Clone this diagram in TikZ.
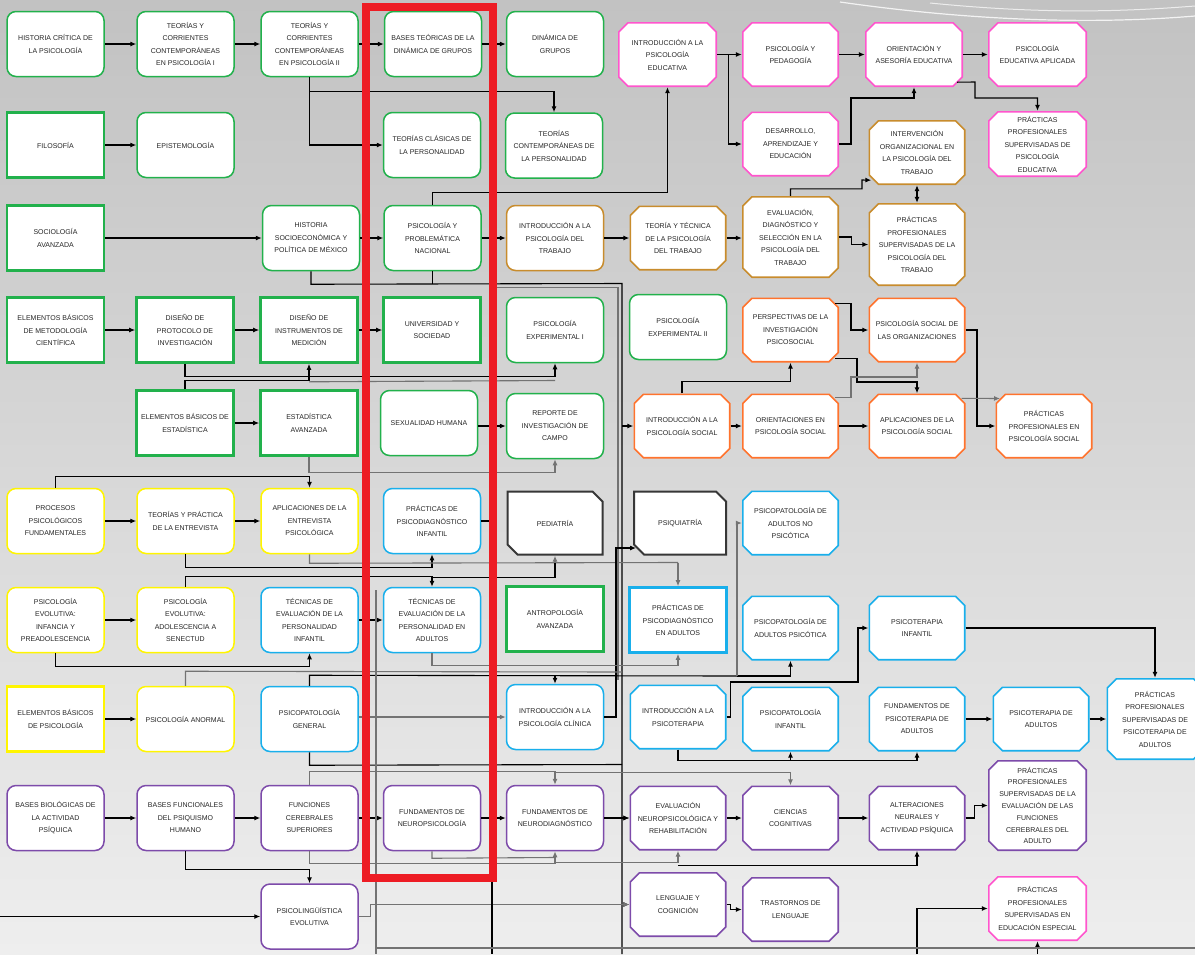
\documentclass[tikz,border=0pt]{standalone}
\usepackage{fontspec}
\newfontfamily\nodefamily{Liberation Sans}
\usetikzlibrary{arrows.meta,calc}
\definecolor{grn}{RGB}{34,177,76}
\definecolor{pnk}{RGB}{255,85,205}
\definecolor{brn}{RGB}{200,140,45}
\definecolor{org}{RGB}{255,115,45}
\definecolor{ylw}{RGB}{255,245,0}
\definecolor{blu}{RGB}{25,175,235}
\definecolor{pur}{RGB}{125,75,170}
\definecolor{drk}{RGB}{55,55,55}
\definecolor{redc}{RGB}{237,28,36}
\definecolor{gcol}{RGB}{115,115,115}
\definecolor{bgtop}{RGB}{194,194,194}
\definecolor{bgbot}{RGB}{238,238,238}
\newcommand{\nodefnt}{\nodefamily\fontsize{7}{12.5}\selectfont}
\tikzset{
  base/.style={minimum width=97pt, minimum height=65pt, inner sep=1pt, align=center, font=\nodefnt, text=black!85},
  rnd/.style={base, fill=white, draw=#1, line width=1.5pt, rounded corners=9pt},
  sq/.style={base, fill=white, draw=#1, line width=2.6pt},
  oct/.style={base, path picture={
    \filldraw[fill=white, draw=#1, line width=1.6pt]
      let \p1=(path picture bounding box.south west), \p2=(path picture bounding box.north east) in
      (\x1+10pt,\y1+0.8pt) -- (\x2-10pt,\y1+0.8pt) -- (\x2-0.8pt,\y1+10pt) -- (\x2-0.8pt,\y2-10pt)
      -- (\x2-10pt,\y2-0.8pt) -- (\x1+10pt,\y2-0.8pt) -- (\x1+0.8pt,\y2-10pt) -- (\x1+0.8pt,\y1+10pt) -- cycle;}},
  cutbox/.style={base, path picture={
    \filldraw[fill=white, draw=#1, line width=2pt]
      let \p1=(path picture bounding box.south west), \p2=(path picture bounding box.north east) in
      (\x1+11pt,\y1+1pt) -- (\x2-1pt,\y1+1pt) -- (\x2-1pt,\y2-11pt) -- (\x2-11pt,\y2-1pt)
      -- (\x1+1pt,\y2-1pt) -- (\x1+1pt,\y1+11pt) -- cycle;}},
  arr/.style={-{Latex[length=6pt,width=5pt]}, line width=1.1pt, draw=black},
  garr/.style={arr, draw=gcol},
  ln/.style={line width=1.1pt, draw=black},
  gln/.style={line width=1.1pt, draw=gcol},
}
\begin{document}
\begin{tikzpicture}[x=1pt,y=-1pt]
\useasboundingbox (0,0) rectangle (1195,954);
\shade[top color=bgtop, bottom color=bgbot] (0,0) rectangle (1195,954);
\draw[white, line width=1.2pt, opacity=0.8] (840,2) .. controls (980,22) and (1100,24) .. (1195,16);
\draw[white, line width=1pt, opacity=0.7] (930,3) .. controls (1040,14) and (1120,12) .. (1195,6);

% ---------- nodes ----------
% row 1
\node[rnd=grn] (hist) at (55.5,44) {HISTORIA CRÍTICA DE\\LA PSICOLOGÍA};
\node[rnd=grn] (t1) at (185.5,44) {TEORÍAS Y\\CORRIENTES\\CONTEMPORÁNEAS\\EN PSICOLOGÍA I};
\node[rnd=grn] (t2) at (309.5,44) {TEORÍAS Y\\CORRIENTES\\CONTEMPORÁNEAS\\EN PSICOLOGÍA II};
\node[rnd=grn] (bdin) at (433,44) {BASES TEÓRICAS DE LA\\DINÁMICA DE GRUPOS};
\node[rnd=grn] (dgr) at (555,44) {DINÁMICA DE\\GRUPOS};
\node[oct=pnk, minimum width=99pt] (iedu) at (667.5,54.5) {INTRODUCCIÓN A LA\\PSICOLOGÍA\\EDUCATIVA};
\node[oct=pnk] (pped) at (790.5,54.5) {PSICOLOGÍA Y\\PEDAGOGÍA};
\node[oct=pnk, minimum width=98pt] (orient) at (914,54.5) {ORIENTACIÓN Y\\ASESORÍA EDUCATIVA};
\node[oct=pnk, minimum width=99pt] (peapl) at (1037.5,54.5) {PSICOLOGÍA\\EDUCATIVA APLICADA};
% row 2
\node[sq=grn] (filo) at (55.5,145) {FILOSOFÍA};
\node[rnd=grn] (epis) at (185.5,145) {EPISTEMOLOGÍA};
\node[rnd=grn] (tclas) at (432,145) {TEORÍAS CLÁSICAS DE\\LA PERSONALIDAD};
\node[rnd=grn] (tcp) at (554,145.5) {TEORÍAS\\CONTEMPORÁNEAS DE\\LA PERSONALIDAD};
\node[oct=pnk] (desarr) at (790.5,144) {DESARROLLO,\\APRENDIZAJE Y\\EDUCACIÓN};
\node[oct=pnk, minimum width=99pt, minimum height=66pt] (pedu) at (1037.5,144) {PRÁCTICAS\\PROFESIONALES\\SUPERVISADAS DE\\PSICOLOGÍA\\EDUCATIVA};
\node[oct=brn] (interv) at (917,152.5) {INTERVENCIÓN\\ORGANIZACIONAL EN\\LA PSICOLOGÍA DEL\\TRABAJO};
% row 3
\node[sq=grn] (socio) at (55.5,238) {SOCIOLOGÍA\\AVANZADA};
\node[rnd=grn] (hsocio) at (311,238) {HISTORIA\\SOCIOECONÓMICA Y\\POLÍTICA DE MÉXICO};
\node[rnd=grn] (pprob) at (432.5,238) {PSICOLOGÍA Y\\PROBLEMÁTICA\\NACIONAL};
\node[rnd=brn] (itrab) at (555,238) {INTRODUCCIÓN A LA\\PSICOLOGÍA DEL\\TRABAJO};
\node[oct=brn] (teotec) at (678,238) {TEORÍA Y TÉCNICA\\DE LA PSICOLOGÍA\\DEL TRABAJO};
\node[oct=brn, minimum height=82pt] (evald) at (790.5,237) {EVALUACIÓN,\\DIAGNÓSTICO Y\\SELECCIÓN EN LA\\PSICOLOGÍA DEL\\TRABAJO};
\node[oct=brn, minimum height=83pt] (ptrab) at (917,244.5) {PRÁCTICAS\\PROFESIONALES\\SUPERVISADAS DE LA\\PSICOLOGÍA DEL\\TRABAJO};
% row 4
\node[sq=grn] (emet) at (55.5,330) {ELEMENTOS BÁSICOS\\DE METODOLOGÍA\\CIENTÍFICA};
\node[sq=grn] (dprot) at (185,330) {DISEÑO DE\\PROTOCOLO DE\\INVESTIGACIÓN};
\node[sq=grn] (dinst) at (309,330) {DISEÑO DE\\INSTRUMENTOS DE\\MEDICIÓN};
\node[sq=grn] (univ) at (432,330) {UNIVERSIDAD Y\\SOCIEDAD};
\node[rnd=grn] (pexp1) at (555,330) {PSICOLOGÍA\\EXPERIMENTAL I};
\node[rnd=grn] (pexp2) at (678,327) {PSICOLOGÍA\\EXPERIMENTAL II};
\node[oct=org] (persp) at (790.5,330) {PERSPECTIVAS DE LA\\INVESTIGACIÓN\\PSICOSOCIAL};
\node[oct=org] (psorg) at (917,330) {PSICOLOGÍA SOCIAL DE\\LAS ORGANIZACIONES};
% row 5
\node[sq=grn] (eest) at (185,423) {ELEMENTOS BÁSICOS DE\\ESTADÍSTICA};
\node[sq=grn] (estav) at (309,423) {ESTADÍSTICA\\AVANZADA};
\node[rnd=grn] (sexh) at (429,423) {SEXUALIDAD HUMANA};
\node[rnd=grn] (repo) at (555,426) {REPORTE DE\\INVESTIGACIÓN DE\\CAMPO};
\node[oct=org] (isoc) at (682,426) {INTRODUCCIÓN A LA\\PSICOLOGÍA SOCIAL};
\node[oct=org] (osoc) at (790.5,426) {ORIENTACIONES EN\\PSICOLOGÍA SOCIAL};
\node[oct=org] (asoc) at (917,426) {APLICACIONES DE LA\\PSICOLOGÍA SOCIAL};
\node[oct=org] (psoc) at (1044,426) {PRÁCTICAS\\PROFESIONALES EN\\PSICOLOGÍA SOCIAL};
% row 6
\node[rnd=ylw] (proc) at (55.5,521) {PROCESOS\\PSICOLÓGICOS\\FUNDAMENTALES};
\node[rnd=ylw] (tent) at (185.5,521) {TEORÍAS Y PRÁCTICA\\DE LA ENTREVISTA};
\node[rnd=ylw] (aent) at (309.5,521) {APLICACIONES DE LA\\ENTREVISTA\\PSICOLÓGICA};
\node[rnd=blu] (pinf) at (432,521) {PRÁCTICAS DE\\PSICODIAGNÓSTICO\\INFANTIL};
\node[cutbox=drk] (pedi) at (555,523) {PEDIATRÍA};
\node[cutbox=drk, minimum width=94pt] (psiq) at (680,523) {PSIQUIATRÍA};
\node[oct=blu] (ppnp) at (790.5,523) {PSICOPATOLOGÍA DE\\ADULTOS NO\\PSICÓTICA};
% row 7
\node[rnd=ylw] (pevi) at (55.5,620) {PSICOLOGÍA\\EVOLUTIVA:\\INFANCIA Y\\PREADOLESCENCIA};
\node[rnd=ylw] (peva) at (185.5,620) {PSICOLOGÍA\\EVOLUTIVA:\\ADOLESCENCIA A\\SENECTUD};
\node[rnd=blu] (tinf) at (309.5,620) {TÉCNICAS DE\\EVALUACIÓN DE LA\\PERSONALIDAD\\INFANTIL};
\node[rnd=blu] (tadu) at (432,620) {TÉCNICAS DE\\EVALUACIÓN DE LA\\PERSONALIDAD EN\\ADULTOS};
\node[sq=grn] (antr) at (555,619) {ANTROPOLOGÍA\\AVANZADA};
\node[sq=blu] (padu) at (678,620) {PRÁCTICAS DE\\PSICODIAGNÓSTICO\\EN ADULTOS};
\node[oct=blu] (ppps) at (790.5,628) {PSICOPATOLOGÍA DE\\ADULTOS PSICÓTICA};
\node[oct=blu] (ptinf) at (917,628) {PSICOTERAPIA\\INFANTIL};
% row 8
\node[sq=ylw] (ebps) at (55.5,719) {ELEMENTOS BÁSICOS\\DE PSICOLOGÍA};
\node[rnd=ylw] (panor) at (185.5,719) {PSICOLOGÍA ANORMAL};
\node[rnd=blu] (ppgen) at (309.5,719) {PSICOPATOLOGÍA\\GENERAL};
\node[rnd=blu] (iclin) at (555,717) {INTRODUCCIÓN A LA\\PSICOLOGÍA CLÍNICA};
\node[oct=blu] (ipster) at (678,717) {INTRODUCCIÓN A LA\\PSICOTERAPIA};
\node[oct=blu] (ppinf) at (790.5,719) {PSICOPATOLOGÍA\\INFANTIL};
\node[oct=blu] (fpster) at (917,719) {FUNDAMENTOS DE\\PSICOTERAPIA DE\\ADULTOS};
\node[oct=blu] (pstad) at (1041,719) {PSICOTERAPIA DE\\ADULTOS};
\node[oct=blu, minimum height=82pt] (ppster) at (1155,719) {PRÁCTICAS\\PROFESIONALES\\SUPERVISADAS DE\\PSICOTERAPIA DE\\ADULTOS};
% row 9
\node[rnd=pur] (bbio) at (55.5,818) {BASES BIOLÓGICAS DE\\LA ACTIVIDAD\\PSÍQUICA};
\node[rnd=pur] (bfun) at (185.5,818) {BASES FUNCIONALES\\DEL PSIQUISMO\\HUMANO};
\node[rnd=pur] (fcer) at (309.5,818) {FUNCIONES\\CEREBRALES\\SUPERIORES};
\node[rnd=pur] (fneu) at (432,818) {FUNDAMENTOS DE\\NEUROPSICOLOGÍA};
\node[rnd=pur] (fndg) at (555,818) {FUNDAMENTOS DE\\NEURODIAGNÓSTICO};
\node[oct=pur] (eneu) at (678,818) {EVALUACIÓN\\NEUROPSICOLÓGICA Y\\REHABILITACIÓN};
\node[oct=pur] (ccog) at (790.5,818) {CIENCIAS\\COGNITIVAS};
\node[oct=pur] (altn) at (917,818) {ALTERACIONES\\NEURALES Y\\ACTIVIDAD PSÍQUICA};
\node[oct=pur, minimum width=99pt, minimum height=91pt, font=\nodefamily\fontsize{7}{11.8}\selectfont] (pneu) at (1037.5,805.5) {PRÁCTICAS\\PROFESIONALES\\SUPERVISADAS DE LA\\EVALUACIÓN DE LAS\\FUNCIONES\\CEREBRALES DEL\\ADULTO};
% row 10
\node[rnd=pur] (pling) at (309.5,916.5) {PSICOLINGÜÍSTICA\\EVOLUTIVA};
\node[oct=pur] (lcog) at (678,904.5) {LENGUAJE Y\\COGNICIÓN};
\node[oct=pur] (tleng) at (790.5,909.5) {TRASTORNOS DE\\LENGUAJE};
\node[oct=pnk, minimum width=99pt] (pesp) at (1037.5,908.5) {PRÁCTICAS\\PROFESIONALES\\SUPERVISADAS EN\\EDUCACIÓN ESPECIAL};

% ---------- connectors ----------
\coordinate (tk) at (622,283.5);
\coordinate (tkend) at (622,954);
% row 1
\draw[arr] (hist) -- (t1);
\draw[arr] (t1) -- (t2);
\draw[arr] (t2) -- (bdin);
\draw[arr] (bdin) -- (dgr);
\draw[arr] (t2.south) -- ++(0,14) -| (tcp.north);
\draw[arr] (t2.south) |- (tclas.west);
\draw[arr] (iedu.east) -- (pped.west);
\draw[arr] (iedu.east) ++(11,0) |- (desarr.west);
\draw[arr] (pped) -- (orient);
\draw[arr] (orient) -- (peapl);
\draw[arr] ([xshift=-6pt,yshift=5pt]orient.south east) -- (975,82) -- (975,98) -| (pedu.north);
\draw[arr] (desarr.east) -| (851,98) -| (orient.south);
% row 2
\draw[arr] (filo) -- (epis);
% row 3
\draw[arr] (socio) -- (hsocio);
\draw[arr] (hsocio) -- (pprob);
\draw[arr] (pprob) -- (itrab);
\draw[arr] (pprob.north) -- ++(0,-12) -| (iedu.south);
\draw[arr] (itrab) -- (teotec);
\draw[arr] (teotec.east) -- (teotec.east -| evald.west);
\draw[arr] (evald.east) -- ++(12,0) |- (ptrab.west);
\draw[arr] (evald.north) -- ++(0,-7) -| (862,180) -- ($(interv.south west)+(3,-5)$);
\draw[{Latex[length=6pt,width=5pt]}-{Latex[length=6pt,width=5pt]}, line width=1.1pt] (interv.south) -- (ptrab.north);
% trunk
\draw[ln] (hsocio.south) -- ++(0,13) -- (tk) -- (tkend);
\draw[ln] (pprob.south) -- (pprob.south |- tk);
\draw[gln] (495,287.5) -- (618,287.5) -- (618,680);
\draw[arr] (tk |- isoc.west) -- (isoc.west);
\draw[arr] (tk |- eneu.west) -- (eneu.west);
\draw[arr] (tk |- lcog.west) -- (lcog.west);
% row 4
\draw[arr] (emet) -- (dprot);
\draw[arr] (dprot) -- (dinst);
\draw[arr] (dinst) -- (univ);
\draw[arr] (dprot.south) -- ++(0,13) -| (pexp1.south);
\draw[arr] (eest.north) -- ++(0,-9) -| (dinst.south);
\draw[gln] (dinst.south) ++(0,18) -- (555,380.5);
% row 5
\draw[arr] (eest) -- (estav);
\draw[garr] (estav.south) -- ++(0,16) -| (repo.south);
\draw[arr] (sexh.east |- repo.west) -- (repo.west);
\draw[arr] (isoc) -- (osoc);
\draw[arr] (osoc) -- (asoc);
\draw[arr] (isoc.north) -- ++(0,-12) -| (persp.south);
\draw[arr] ([xshift=-4pt,yshift=-6pt]persp.north east) -| (851,330) -- (psorg.west);
\draw[arr] ([xshift=-4pt,yshift=4pt]persp.south east) -| (857,382) -| (asoc.north);
\draw[garr] ([xshift=-4pt,yshift=-4pt]osoc.north east) -| (851,377) -| (psorg.south);
\draw[arr] (psorg.east) -| (977,426) -- (psoc.west);
\draw[garr] ([xshift=-4pt,yshift=-5pt]asoc.north east) -- (1000,398.5);
% row 6
\draw[arr] (proc) -- (tent);
\draw[arr] (tent) -- (aent);
\draw[arr] (proc.north) -- ++(0,-11) -| (aent.north);
\draw[arr] (tent.south) -- ++(0,13) -| (pinf.south);
\draw[gln] (aent.south) -- ++(0,9) -- (678,562.5);
\draw[garr] (678,562.5) -- (padu.north);
\draw[garr] (555,562.5) -- (pedi.south);
\draw[arr] (peva.north) -- ++(0,-10) -| (tadu.north);
\draw[ln] (432,577.5) -- (555,577.5) -- (555,563);
\draw[ln] (pinf.east) -- ++(10,0);
\draw[arr] (iclin.east) -| (616,548) -- (636,548);
% row 7
\draw[arr] (pevi) -- (peva);
\draw[arr] (tinf) -- (tadu);
\draw[arr] (pevi.south) -- ++(0,13) -| (tinf.south);
\draw[garr] (tadu.south) -- ++(0,12) -| (padu.south);
\draw[arr] (ptinf.east) -| (ppster.north);
% row 8
\draw[arr] (ebps) -- (panor);
\draw[ln] (ppgen.north) -- ++(0,-10.5) -- (737,676);
\draw[arr] (555,676) -- (iclin.north);
\draw[arr] (737,676) -| (ppps.south);
\draw[garr] (737,676) |- (ppnp.west);
\draw[gln] (panor.north) -- ++(0,-14.5) -- (622,672);
\draw[garr] (ppgen.east |- iclin.west) -- (iclin.west);
\draw[arr] (ipster.east) -- ++(4,0) |- (858,682) |- (ptinf.west);
\draw[arr] (fpster) -- (pstad);
\draw[arr] (pstad) -- (ppster);
\draw[arr] (ipster.south) -- ++(0,11) -| (fpster.south);
\draw[arr] (790.5,760.5) -- (ppinf.south);
\draw[ln] (ppgen.south) -- ++(0,13) -- (622,764.5);
% row 9
\draw[arr] (bbio) -- (bfun);
\draw[arr] (bfun) -- (fcer);
\draw[arr] (fcer) -- (fneu);
\draw[arr] (fneu) -- (fndg);
\draw[arr] (fndg) -- (eneu);
\draw[arr] (eneu) -- (ccog);
\draw[arr] (ccog) -- (altn);
\draw[arr] (altn.east) -- ++(9,0) |- (pneu.west);
\draw[arr] (bfun.south) -- ++(0,18) -| (pling.north);
\draw[garr] (fcer.north) -- ++(0,-13) -| (fndg.north);
\draw[garr] (555,772.5) -| (ccog.north);
\draw[garr] (fcer.south) -- ++(0,12) -| (fndg.south);
\draw[garr] (555,862.5) -| (eneu.south);
\draw[gln] (fneu.south) -- ++(0,7) -- (555,857.5);
\draw[arr] (678,865.5) -| (altn.south);
% row 10
\coordinate (lft) at (0,916.5);
\draw[arr] (lft) -- (pling.west);
\draw[garr] (pling.east) -- ++(12,0) |- (lcog.west);
\draw[arr] (lcog.east) -- ++(4,0) |- (tleng.west);
\draw[arr] (917,954) |- (pesp.west);
\draw[arr] (1037.5,954) -- (pesp.south);
% long lines
\draw[gln] (376,590) -- (376,954);
\draw[ln] (492,880) -- (492,954);
\draw[gln] (376,948) -- (1195,948);

% red frame
\draw[draw=redc, line width=8pt] (366,7) rectangle (493,878);
\end{tikzpicture}
\end{document}
